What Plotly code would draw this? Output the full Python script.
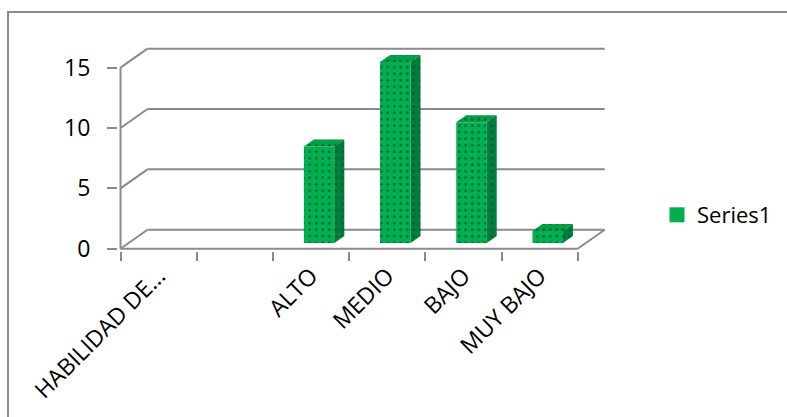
import plotly.graph_objects as go

# ---- data ----
categories = ["HABILIDAD DE...", "", "ALTO", "MEDIO", "BAJO", "MUY BAJO"]
values = [None, None, 8, 15, 10, 1]
y_ticks = [0, 5, 10, 15]
series_name = "Series1"

# ---- geometry of the oblique 3-D frame ----
W, H = 787, 417
CAT_PX = 76.2          # pixels per category
VAL_PX = 12.07         # pixels per value unit
PLOT_L, PLOT_R, PLOT_T, PLOT_B = 118, 620, 38, 251
FRONT_X_PX, FRONT_Y_PX = 120.5, 248.7   # where (cat 0, value 0) sits

x0 = -(FRONT_X_PX - PLOT_L) / CAT_PX
y0 = -(PLOT_B - FRONT_Y_PX) / VAL_PX
x1 = x0 + (PLOT_R - PLOT_L) / CAT_PX
y1 = y0 + (PLOT_B - PLOT_T) / VAL_PX

DX = 27 / CAT_PX       # depth shift, in category units
DY = 19 / VAL_PX       # depth shift, in value units
BAR_W = 0.40
D_FRONT, D_BACK = 0.30, 0.67   # bar depth span as a fraction of the floor depth

GRID = "#8a8a8a"
n = len(categories)
ymax_tick = max(y_ticks)

fig = go.Figure()


def line(xs, ys, width=2, color=GRID):
    fig.add_trace(go.Scatter(x=xs, y=ys, mode="lines", showlegend=False,
                             hoverinfo="skip",
                             line=dict(color=color, width=width)))


# back wall gridlines plus the connectors from the front value axis
for v in y_ticks:
    line([0 + DX, n + DX], [v + DY, v + DY])
    line([0, DX], [v, v + DY])

# floor outline
line([0, n], [0, 0])
line([n, n + DX], [0, DY])
# front value axis
line([0, 0], [0, ymax_tick])


def face(xs, ys, bg):
    fig.add_trace(go.Scatter(
        x=xs + [xs[0]], y=ys + [ys[0]], mode="lines", fill="toself",
        showlegend=False, hoverinfo="skip",
        line=dict(width=0, color=bg), fillcolor=bg,
        fillpattern=dict(shape=".", bgcolor=bg, fgcolor="#00512a",
                         size=6.5, solidity=0.1, fillmode="replace"),
    ))


# 3-D columns: front, top and right side faces
for i, v in enumerate(values):
    if v is None:
        continue
    fx = i + 0.5 + D_FRONT * DX
    fy = D_FRONT * DY
    xl, xr = fx - BAR_W / 2, fx + BAR_W / 2
    bx = (D_BACK - D_FRONT) * DX
    by = (D_BACK - D_FRONT) * DY
    face([xl, xr, xr, xl], [fy, fy, fy + v, fy + v], "#00b050")
    face([xl, xr, xr + bx, xl + bx], [fy + v, fy + v, fy + v + by, fy + v + by], "#00a047")
    face([xr, xr + bx, xr + bx, xr], [fy, fy + by, fy + v + by, fy + v], "#007f3c")

# legend entry
fig.add_trace(go.Scatter(x=[None], y=[None], mode="markers", name=series_name,
                         marker=dict(symbol="square", size=15, color="#00b050")))

fig.update_layout(
    width=W, height=H,
    margin=dict(l=PLOT_L, r=W - PLOT_R, t=PLOT_T, b=H - PLOT_B, pad=0,
                autoexpand=False),
    paper_bgcolor="white", plot_bgcolor="white",
    font=dict(family="Open Sans", size=23, color="black"),
    xaxis=dict(
        range=[x0, x1], showgrid=False, zeroline=False, showline=False,
        automargin=False,
        tickvals=[i + 0.5 for i in range(n)], ticktext=categories,
        tickangle=-45, ticks="", ticklabelstandoff=6,
        minor=dict(tickvals=list(range(n + 1)), ticks="outside", ticklen=9,
                   tickwidth=2, tickcolor=GRID, showgrid=False),
    ),
    yaxis=dict(
        range=[y0, y1], showgrid=False, zeroline=False, showline=False,
        automargin=False,
        tickvals=y_ticks, ticks="outside", ticklen=10, tickwidth=2,
        tickcolor=GRID, ticklabelstandoff=12,
    ),
    legend=dict(x=(657 - PLOT_L) / (PLOT_R - PLOT_L),
                y=(PLOT_B - 215) / (PLOT_B - PLOT_T), yanchor="middle",
                xanchor="left", bgcolor="rgba(0,0,0,0)",
                font=dict(size=22)),
    shapes=[dict(type="rect", xref="paper", yref="paper",
                 x0=(8 - PLOT_L) / (PLOT_R - PLOT_L), x1=(800 - PLOT_L) / (PLOT_R - PLOT_L),
                 y0=(PLOT_B - 430) / (PLOT_B - PLOT_T), y1=(PLOT_B - 12) / (PLOT_B - PLOT_T),
                 line=dict(color=GRID, width=2))],
)

fig.write_html("out.html")
